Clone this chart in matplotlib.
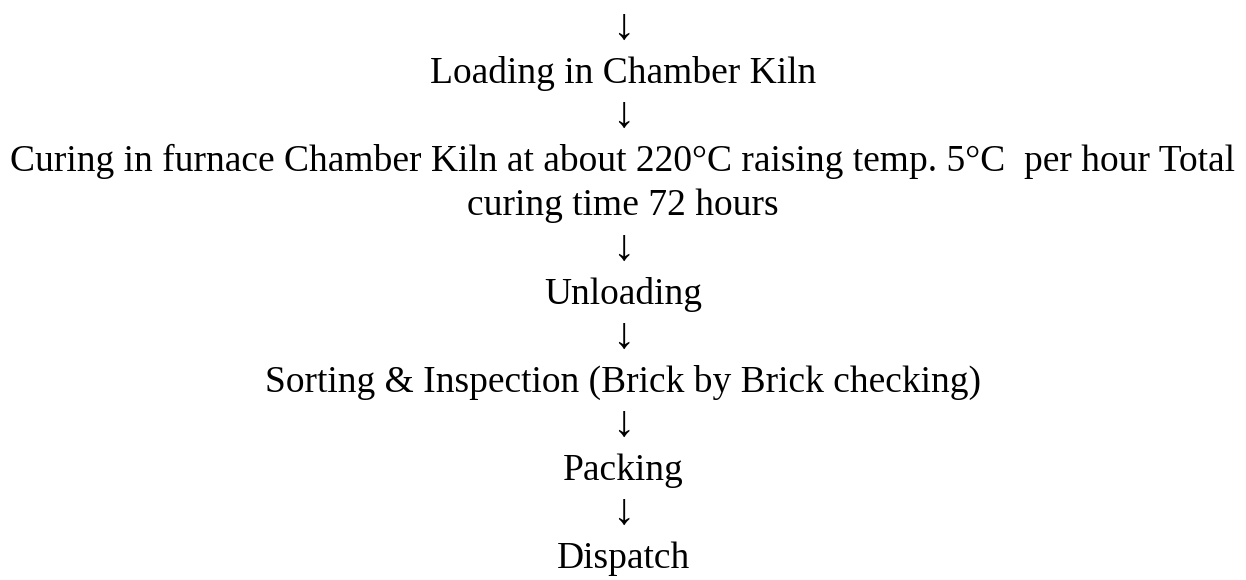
import matplotlib
matplotlib.use('Agg')
import matplotlib.pyplot as plt

plt.rcParams['font.family'] = ['Liberation Serif', 'DejaVu Serif']

# flow lines, top to bottom (arrows included as text)
lines = [
    '↓',
    'Loading in Chamber Kiln',
    '↓',
    'Curing in furnace Chamber Kiln at about 220°C raising temp. 5°C  per hour Total',
    'curing time 72 hours',
    '↓',
    'Unloading',
    '↓',
    'Sorting & Inspection (Brick by Brick checking)',
    '↓',
    'Packing',
    '↓',
    'Dispatch',
]

first_base = 39.0   # baseline of first line, px from top
line_h = 44.1       # single line spacing, px

fig = plt.figure(figsize=(12.46, 5.8), dpi=100)
ax = fig.add_axes([0, 0, 1, 1])
ax.set_xlim(0, 1246)
ax.set_ylim(580, 0)
ax.axis('off')

for i, txt in enumerate(lines):
    y = first_base + i * line_h
    size = 32 if txt == '↓' else 27
    ax.text(623, y, txt, ha='center', va='baseline', fontsize=size, color='black')

fig.savefig('out.png', dpi=100)
